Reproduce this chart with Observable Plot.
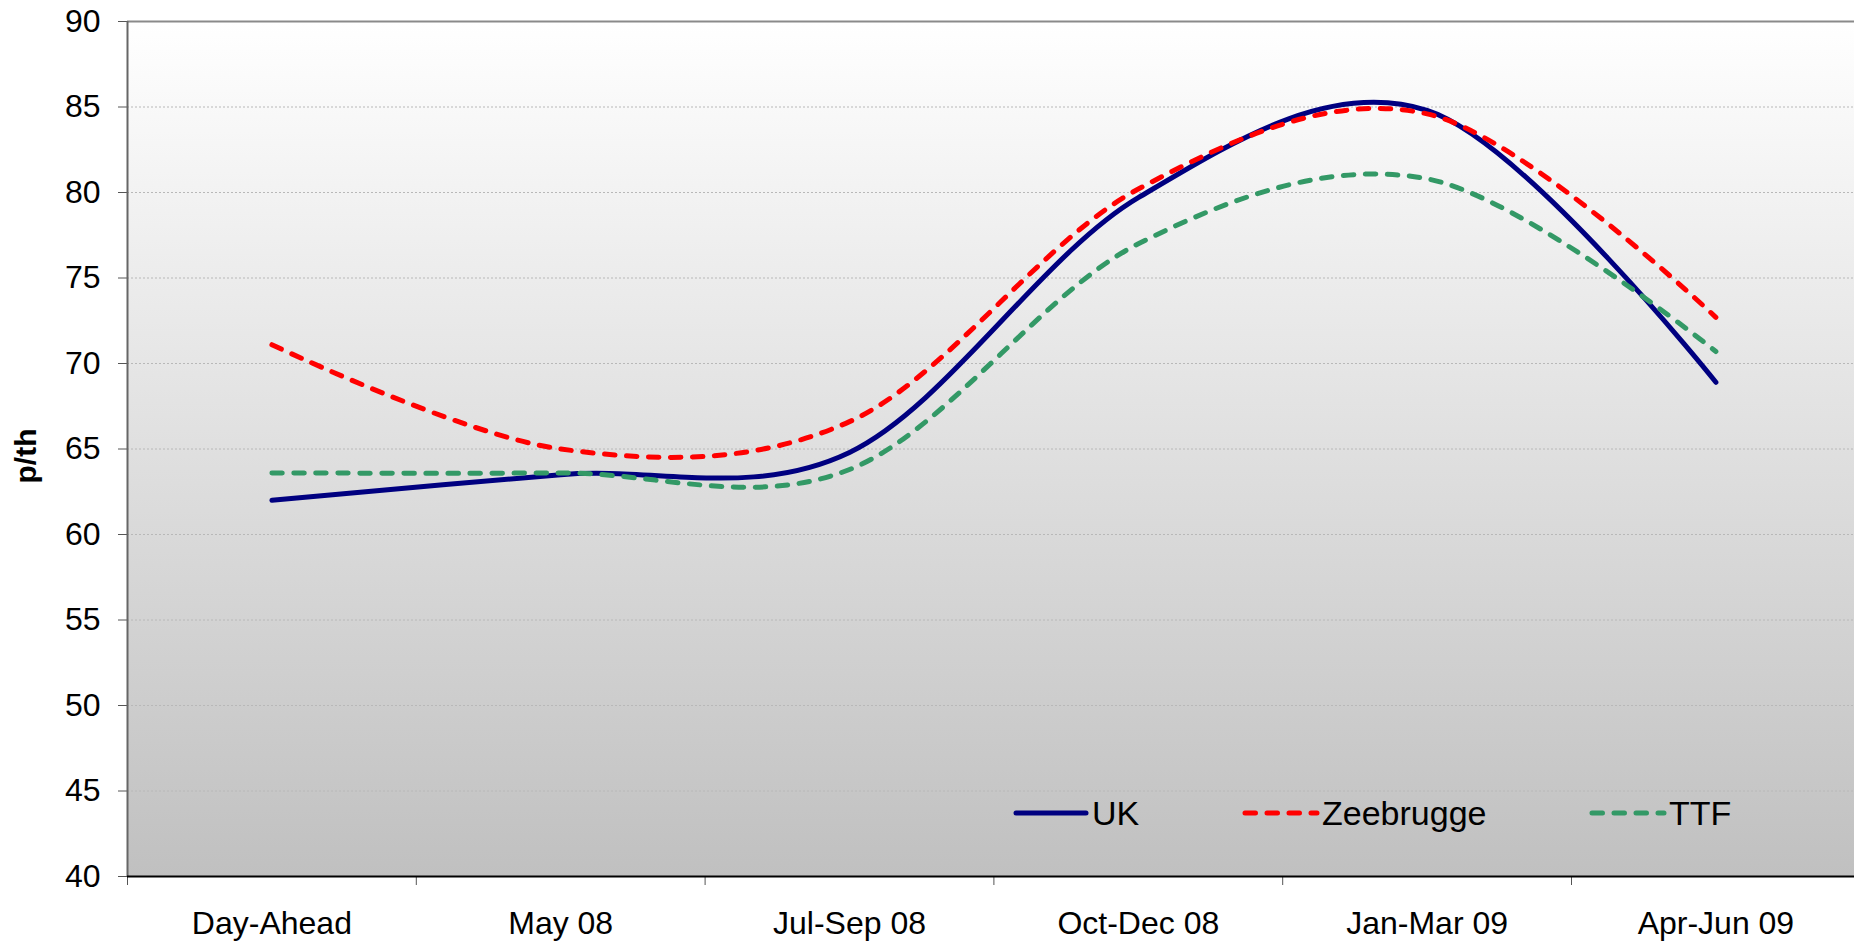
<!DOCTYPE html>
<html>
<head>
<meta charset="utf-8">
<script src="https://cdn.jsdelivr.net/npm/d3@7"></script>
<script src="https://cdn.jsdelivr.net/npm/@observablehq/plot@0.6"></script>
<style>
  html, body { margin: 0; padding: 0; background: #ffffff; overflow: hidden; }
  #chart { width: 1854px; height: 943px; overflow: hidden; }
</style>
</head>
<body>
<div id="chart"></div>
<script>
// ---- data ----
const categories = ["Day-Ahead", "May 08", "Jul-Sep 08", "Oct-Dec 08", "Jan-Mar 09", "Apr-Jun 09"];
const seriesNames = ["UK", "Zeebrugge", "TTF"];
const ukValues = [62.0, 63.5, 64.8, 79.7, 84.8, 68.9];
const zeebruggeValues = [71.1, 65.0, 66.6, 80.2, 84.6, 72.7];
const ttfValues = [63.6, 63.6, 63.8, 77.0, 80.8, 70.7];
const yTicks = [40, 45, 50, 55, 60, 65, 70, 75, 80, 85, 90];
const yLabel = "p/th";

// ---- build table for Plot ----
const seriesValues = [ukValues, zeebruggeValues, ttfValues];
const rows = seriesNames.flatMap((name, s) =>
  seriesValues[s].map((v, i) => ({series: name, i, value: v})));
const idx = categories.map((_, i) => i);
const boundaries = [...idx.map(i => i - 0.5), categories.length - 0.5];

const styles = {
  UK: {stroke: "#000080", dash: null},
  Zeebrugge: {stroke: "#ff0000", dash: "10.5,11.5"},
  TTF: {stroke: "#339966", dash: "10.5,11.5"}
};

const W = 1854, H = 943;
const mL = 127, mT = 21, mB = 67;
const bandPx = 288.8;

const lineMark = name => Plot.line(rows.filter(d => d.series === name), {
  x: "i", y: "value",
  stroke: styles[name].stroke,
  strokeWidth: 5,
  strokeDasharray: styles[name].dash,
  strokeLinecap: "round",
  strokeLinejoin: "round",
  curve: "cardinal",
  tension: 0
});

const svg = Plot.plot({
  width: W, height: H,
  marginLeft: mL, marginRight: 0, marginTop: mT, marginBottom: mB,
  style: {
    fontFamily: "'Liberation Sans', Arial, sans-serif",
    fontSize: "32px",
    color: "#000",
    background: "#ffffff",
    overflow: "hidden"
  },
  x: {type: "linear", domain: [-0.5, categories.length - 0.5], range: [mL, mL + bandPx * categories.length], label: null},
  y: {domain: [40, 90], label: null},
  marks: [
    Plot.frame({fill: "url(#bgGrad)", stroke: "none"}),
    Plot.gridY(yTicks.filter(t => t > 40 && t < 90), {stroke: "#b8b8b8", strokeOpacity: 1, strokeWidth: 1, strokeDasharray: "2,2"}),
    Plot.ruleY([90], {stroke: "#8a8a8a", strokeWidth: 2}),
    Plot.axisY(yTicks, {tickSize: 9, tickPadding: 18, stroke: "#555", fill: "#000", label: null, tickFormat: d => String(d)}),
    Plot.axisX(boundaries, {tickSize: 9, tickFormat: () => "", stroke: "#555", label: null}),
    Plot.axisX(idx, {tickSize: 0, tickPadding: 35, tickFormat: i => categories[i], fill: "#000", label: null}),
    lineMark("UK"),
    lineMark("Zeebrugge"),
    lineMark("TTF"),
    Plot.ruleX([-0.5], {stroke: "#666", strokeWidth: 2}),
    Plot.ruleY([40], {stroke: "#000", strokeWidth: 2})
  ]
});

// gradient for the plot background
svg.insertAdjacentHTML("afterbegin",
  `<defs><linearGradient id="bgGrad" x1="0" y1="0" x2="0" y2="1">
     <stop offset="0" stop-color="#ffffff"/>
     <stop offset="1" stop-color="#c0c0c0"/>
   </linearGradient></defs>`);

const root = d3.select(svg);

// y-axis title
root.append("text")
  .attr("transform", "translate(36,456) rotate(-90)")
  .attr("text-anchor", "middle")
  .attr("font-size", 30)
  .attr("font-weight", "bold")
  .attr("fill", "#000")
  .text(yLabel);

// legend inside the plot area
const legendItems = [
  {name: "UK", x0: 1016, x1: 1086, tx: 1092},
  {name: "Zeebrugge", x0: 1245, x1: 1317, tx: 1322},
  {name: "TTF", x0: 1592, x1: 1664, tx: 1669}
];
const legendY = 813;
const lg = root.append("g").attr("class", "legend");
legendItems.forEach(item => {
  const st = styles[item.name];
  lg.append("line")
    .attr("x1", item.x0).attr("x2", item.x1)
    .attr("y1", legendY).attr("y2", legendY)
    .attr("stroke", st.stroke).attr("stroke-width", 5)
    .attr("stroke-linecap", "round")
    .attr("stroke-dasharray", st.dash ? st.dash : null);
  lg.append("text")
    .attr("x", item.tx).attr("y", legendY + 12)
    .attr("text-anchor", "start")
    .attr("font-size", 34)
    .attr("fill", "#000")
    .text(item.name);
});

document.getElementById("chart").appendChild(svg);
</script>
</body>
</html>
